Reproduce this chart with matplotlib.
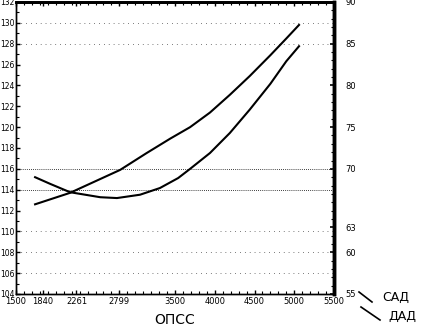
import matplotlib
matplotlib.use("Agg")
import matplotlib.pyplot as plt
from matplotlib.lines import Line2D
from matplotlib.ticker import MultipleLocator

# ОПСС values along the curves
opss_sad = [1740, 2180, 2810, 3140, 3440, 3690, 3940, 4190, 4440, 4700, 4900, 5060]
sad = [112.6, 113.7, 115.9, 117.5, 118.9, 120.0, 121.4, 123.1, 124.9, 126.9, 128.5, 129.8]

opss_dad = [1740, 1930, 2180, 2560, 2770, 3060, 3310, 3540, 3690, 3940, 4190, 4440, 4700, 4900, 5060]
dad = [69.0, 68.2, 67.2, 66.6, 66.5, 66.9, 67.7, 68.9, 70.0, 71.9, 74.3, 77.1, 80.2, 82.9, 84.7]

x_ticks = [1500, 1840, 2261, 2799, 3500, 4000, 4500, 5000, 5500]
left_ticks = list(range(104, 133, 2))
right_ticks = [55, 60, 63, 70, 75, 80, 85, 90]
grid_dense = [114, 116]
grid_sparse = [106, 108, 110, 128, 130]

plt.rcParams['font.family'] = ['DejaVu Sans']

fig = plt.figure(figsize=(4.21, 3.29), dpi=100)
ax = fig.add_axes([16 / 421, 1 - 294 / 329, 318 / 421, 292 / 329])
ax2 = ax.twinx()

ax.set_xlim(1500, 5500)
ax.set_ylim(104, 132)
ax2.set_ylim(55, 90)

for g in grid_dense:
    ax.axhline(g, color='black', lw=0.6, ls=(0, (1, 1.5)), zorder=1)
for g in grid_sparse:
    ax.axhline(g, color='black', lw=0.5, ls=(0, (1, 6)), zorder=1)

ax.plot(opss_sad, sad, color='black', lw=1.5, zorder=3)
ax2.plot(opss_dad, dad, color='black', lw=1.5, zorder=3)

ax.set_xticks(x_ticks)
ax.set_xticklabels([str(t) for t in x_ticks], fontsize=6)
ax.xaxis.set_minor_locator(MultipleLocator(100))
ax.set_yticks(left_ticks)
ax.set_yticklabels([str(t) for t in left_ticks], fontsize=5.5)
ax.yaxis.set_minor_locator(MultipleLocator(1))
ax2.set_yticks(right_ticks)
ax2.set_yticklabels([str(t) for t in right_ticks], fontsize=6)
ax2.yaxis.set_minor_locator(MultipleLocator(1))

ax.tick_params(axis='x', which='major', direction='in', length=3, width=1, pad=2, top=True)
ax.tick_params(axis='y', which='major', direction='in', length=3, width=1, pad=1)
ax.tick_params(axis='both', which='minor', direction='in', length=2, width=0.8, top=True)
ax2.tick_params(axis='y', which='major', direction='in', length=3, width=1.2, pad=8)
ax2.tick_params(axis='y', which='minor', direction='in', length=2, width=0.8)

for a in (ax, ax2):
    a.spines['left'].set_linewidth(1.0)
    a.spines['bottom'].set_linewidth(1.0)
    a.spines['top'].set_linewidth(2.0)
    a.spines['right'].set_linewidth(2.5)

ax.set_xlabel('ОПСС', fontsize=10, labelpad=5)

# legend strokes drawn outside the plot
fig.add_artist(Line2D([359 / 421, 372 / 421], [1 - 292 / 329, 1 - 302 / 329],
                      color='black', lw=1.2, transform=fig.transFigure))
fig.add_artist(Line2D([361 / 421, 380 / 421], [1 - 307 / 329, 1 - 320 / 329],
                      color='black', lw=1.2, transform=fig.transFigure))
fig.text(382 / 421, 1 - 297 / 329, 'САД', fontsize=9, va='center', ha='left')
fig.text(388 / 421, 1 - 316 / 329, 'ДАД', fontsize=9, va='center', ha='left')

fig.savefig('out.png', dpi=100)
